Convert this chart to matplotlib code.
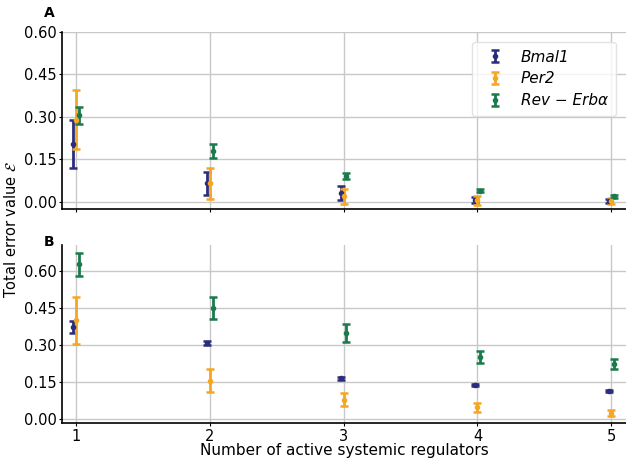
import matplotlib
matplotlib.use("Agg")
import matplotlib.pyplot as plt
from matplotlib.legend_handler import HandlerErrorbar
from matplotlib.container import ErrorbarContainer
import numpy as np

x = [1, 2, 3, 4, 5]
genes = ["Bmal1", "Per2", "Rev \u2212 Erb\u03b1"]
colors = ["#2b2d7c", "#f5a623", "#1b7a4c"]
offsets = [-0.02, 0.0, 0.02]

# Panel A
a_bmal1 = [0.204, 0.065, 0.030, 0.007, 0.004]
a_bmal1_err = [0.084, 0.039, 0.025, 0.010, 0.007]
a_per2 = [0.290, 0.065, 0.020, 0.005, 0.004]
a_per2_err = [0.104, 0.055, 0.027, 0.015, 0.010]
a_rev = [0.305, 0.180, 0.091, 0.040, 0.019]
a_rev_err = [0.030, 0.024, 0.010, 0.005, 0.006]

# Panel B
b_bmal1 = [0.375, 0.307, 0.166, 0.139, 0.113]
b_bmal1_err = [0.024, 0.008, 0.005, 0.005, 0.004]
b_per2 = [0.400, 0.157, 0.080, 0.048, 0.027]
b_per2_err = [0.095, 0.046, 0.027, 0.018, 0.012]
b_rev = [0.627, 0.452, 0.348, 0.253, 0.224]
b_rev_err = [0.045, 0.045, 0.037, 0.024, 0.021]

yticks = [0.00, 0.15, 0.30, 0.45, 0.60]

fig = plt.figure(figsize=(6.26, 4.59), dpi=100)
axA = fig.add_axes([0.099, 0.5447, 0.901, 0.3863])
axB = fig.add_axes([0.099, 0.0778, 0.901, 0.3882], sharex=axA)

def draw(ax, series, errs, ylim):
    for i, (vals, err) in enumerate(zip(series, errs)):
        xs = np.array(x) + offsets[i]
        ax.errorbar(xs, vals, yerr=err, fmt='o', color=colors[i], ms=3,
                    elinewidth=2, capsize=3, capthick=1.8, label=genes[i], zorder=3)
    ax.set_ylim(*ylim)
    ax.set_yticks(yticks)
    ax.set_yticklabels([f"{v:.2f}" for v in yticks])
    ax.grid(True, color="#c8c8c8", linewidth=1)
    ax.set_axisbelow(True)
    for s in ["top", "right"]:
        ax.spines[s].set_visible(False)
    for s in ["left", "bottom"]:
        ax.spines[s].set_color("black")
        ax.spines[s].set_linewidth(1.2)
    ax.tick_params(labelsize=10.5, length=2.5, color="black", pad=1.5)

draw(axA, [a_bmal1, a_per2, a_rev], [a_bmal1_err, a_per2_err, a_rev_err], (-0.025, 0.60))
draw(axB, [b_bmal1, b_per2, b_rev], [b_bmal1_err, b_per2_err, b_rev_err], (-0.016, 0.705))

axA.set_xlim(0.895, 5.11)
axA.set_xticks(x)
plt.setp(axA.get_xticklabels(), visible=False)

leg = axA.legend(loc="upper right", bbox_to_anchor=(0.995, 0.985),
                 prop={"size": 11, "style": "italic"},
                 handletextpad=0.7, framealpha=0.8, edgecolor="#dddddd",
                 borderpad=0.5, labelspacing=0.45,
                 handler_map={ErrorbarContainer: HandlerErrorbar(xerr_size=0.5, yerr_size=0.38)})

axB.set_xlabel("Number of active systemic regulators", fontsize=11)
axB.xaxis.set_label_coords(0.5, -0.112)
fig.text(0.018, 0.5, "Total error value $\\mathcal{E}$", rotation=90,
         va="center", ha="center", fontsize=10.5)

fig.text(0.078, 0.987, "A", fontsize=10, fontweight="bold", va="top", ha="center")
fig.text(0.078, 0.488, "B", fontsize=10, fontweight="bold", va="top", ha="center")

fig.savefig("out.png", dpi=100)
